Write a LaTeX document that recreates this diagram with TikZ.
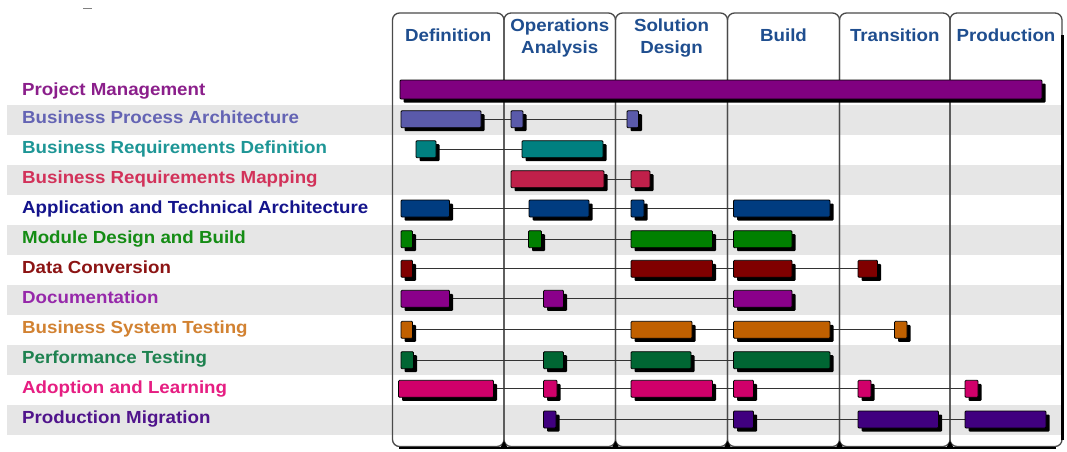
\documentclass[tikz,border=0pt]{standalone}
\usepackage{fontspec}
\setmainfont{Liberation Sans}[FakeStretch=1.07]
\usetikzlibrary{shadows}
\definecolor{hdr}{HTML}{1F4E8F}
\definecolor{band}{HTML}{E6E6E6}
\definecolor{gridc}{HTML}{4A4A4A}
% bar fills
\definecolor{cPM}{HTML}{800080}
\definecolor{cBPA}{HTML}{5A5AAA}
\definecolor{cBRD}{HTML}{008080}
\definecolor{cBRM}{HTML}{C0204A}
\definecolor{cATA}{HTML}{003C80}
\definecolor{cMDB}{HTML}{008000}
\definecolor{cDC}{HTML}{800000}
\definecolor{cDoc}{HTML}{8A008A}
\definecolor{cBST}{HTML}{C06000}
\definecolor{cPT}{HTML}{006633}
\definecolor{cAL}{HTML}{D0006A}
\definecolor{cPMg}{HTML}{40007F}
% label colours
\definecolor{tPM}{HTML}{8B1F8B}
\definecolor{tBPA}{HTML}{6464B4}
\definecolor{tBRD}{HTML}{1E9696}
\definecolor{tBRM}{HTML}{D2325A}
\definecolor{tATA}{HTML}{14148C}
\definecolor{tMDB}{HTML}{148C14}
\definecolor{tDC}{HTML}{8C1414}
\definecolor{tDoc}{HTML}{9628AA}
\definecolor{tBST}{HTML}{D28232}
\definecolor{tPT}{HTML}{1E8250}
\definecolor{tAL}{HTML}{E61E82}
\definecolor{tPMg}{HTML}{50148C}
\pgfdeclarelayer{bglayer}
\pgfdeclarelayer{linelayer}
\pgfsetlayers{bglayer,linelayer,main}
\newcommand\ganttbar[5]{\node[gbar, fill=#2, minimum width={(#4)-(#3)}] (#1) at ({((#3)+(#4))/2},#5) {};}
\begin{document}
\begin{tikzpicture}[x=1pt,y=-1pt,
  gbar/.style={draw=black, line width=0.8pt, inner sep=0pt, outer sep=0pt, minimum height=17pt,
     rounded corners=1pt,
     drop shadow={shadow xshift=3.5pt, shadow yshift=-3.5pt, fill=black, opacity=1}},
  conn/.style={draw=black!80, line width=0.9pt},
  tabbox/.style={draw=gridc, line width=1.3pt, rounded corners=7pt},
  hdrtext/.style={font=\fontsize{17.5}{20}\selectfont\bfseries, text=hdr, inner sep=0pt, anchor=base},
  rowlabel/.style={font=\fontsize{17.5}{20}\selectfont\bfseries, inner sep=0pt, anchor=base west}]
\useasboundingbox (0,0) rectangle (1067,451);

\begin{pgfonlayer}{bglayer}
  \fill[white] (0,0) rectangle (1067,451);
  % alternating bands
  \foreach \k in {0,2,4,6,8,10} {
    \fill[band] (7,{105+30*\k}) rectangle (1062,{135+30*\k});
  }
  % phase tabs
  \foreach \a/\b in {392.5/504,504/615.5,615.5/727.5,727.5/839.5,839.5/950,950/1062} {
    \draw[tabbox] (\a,13) rectangle (\b,446.5);
  }
  % shadow of the chart on the right and bottom
  \draw[black, line width=2.2pt] (1062.5,35) -- (1062.5,440);
  \draw[black, line width=2pt] (399,447.5) -- (1056,447.5);
  \foreach \a in {504,615.5,727.5,839.5,950} {
    \fill[black] ({\a-4},448.5) -- ({\a+4},448.5) -- (\a,441) -- cycle;
  }
  \draw[gray, line width=1pt] (83,8.3) -- (92,8.3);
\end{pgfonlayer}

% phase headers
\node[hdrtext] (hDef) at (448.25,41.7) {Definition};
\node[hdrtext] (hOA1) at (559.75,31.7) {Operations};
\node[hdrtext] (hOA2) at (559.75,53.3) {Analysis};
\node[hdrtext] (hSD1) at (671.5,31.7) {Solution};
\node[hdrtext] (hSD2) at (671.5,53.3) {Design};
\node[hdrtext] (hBld) at (783.5,41.7) {Build};
\node[hdrtext] (hTrn) at (894.75,41.7) {Transition};
\node[hdrtext] (hPrd) at (1006,41.7) {Production};

% row labels
\node[rowlabel, text=tPM]  (lPM)  at (22,95)    {Project Management};
\node[rowlabel, text=tBPA] (lBPA) at (22,123.5) {Business Process Architecture};
\node[rowlabel, text=tBRD] (lBRD) at (22,153.5) {Business Requirements Definition};
\node[rowlabel, text=tBRM] (lBRM) at (22,183.5) {Business Requirements Mapping};
\node[rowlabel, text=tATA] (lATA) at (22,213.5) {Application and Technical Architecture};
\node[rowlabel, text=tMDB] (lMDB) at (22,243.5) {Module Design and Build};
\node[rowlabel, text=tDC]  (lDC)  at (22,273.5) {Data Conversion};
\node[rowlabel, text=tDoc] (lDoc) at (22,303.5) {Documentation};
\node[rowlabel, text=tBST] (lBST) at (22,333.5) {Business System Testing};
\node[rowlabel, text=tPT]  (lPT)  at (22,363.5) {Performance Testing};
\node[rowlabel, text=tAL]  (lAL)  at (22,393.5) {Adoption and Learning};
\node[rowlabel, text=tPMg] (lPMg) at (22,423.5) {Production Migration};

% bars
\node[gbar, fill=cPM, minimum width=642pt, minimum height=19pt] (pm) at (721,89.5) {};
\ganttbar{bpa1}{cBPA}{401}{481}{119.2}
\ganttbar{bpa2}{cBPA}{511}{523}{119.2}
\ganttbar{bpa3}{cBPA}{627}{638.5}{119.2}
\ganttbar{brd1}{cBRD}{416}{436}{149.2}
\ganttbar{brd2}{cBRD}{522}{603}{149.2}
\ganttbar{brm1}{cBRM}{511}{604}{179.2}
\ganttbar{brm2}{cBRM}{631}{650}{179.2}
\ganttbar{ata1}{cATA}{401}{449.5}{208.5}
\ganttbar{ata2}{cATA}{529}{589}{208.5}
\ganttbar{ata3}{cATA}{631}{644}{208.5}
\ganttbar{ata4}{cATA}{733.5}{830}{208.5}
\ganttbar{mdb1}{cMDB}{401}{412.5}{239.2}
\ganttbar{mdb2}{cMDB}{528.5}{541.5}{239.2}
\ganttbar{mdb3}{cMDB}{631}{712.5}{239.2}
\ganttbar{mdb4}{cMDB}{733.5}{792}{239.2}
\ganttbar{dc1}{cDC}{401}{412.5}{268.8}
\ganttbar{dc2}{cDC}{631}{712.5}{268.8}
\ganttbar{dc3}{cDC}{733.5}{792}{268.8}
\ganttbar{dc4}{cDC}{858}{877.5}{268.8}
\ganttbar{doc1}{cDoc}{401}{449.5}{298.8}
\ganttbar{doc2}{cDoc}{543.5}{563.5}{298.8}
\ganttbar{doc3}{cDoc}{733.5}{792}{298.8}
\ganttbar{bst1}{cBST}{401}{412.5}{329.8}
\ganttbar{bst2}{cBST}{631}{692}{329.8}
\ganttbar{bst3}{cBST}{733.5}{830}{329.8}
\ganttbar{bst4}{cBST}{894.5}{907}{329.8}
\ganttbar{pt1}{cPT}{401}{413.5}{360.2}
\ganttbar{pt2}{cPT}{543.5}{563.5}{360.2}
\ganttbar{pt3}{cPT}{631}{691}{360.2}
\ganttbar{pt4}{cPT}{733.5}{830}{360.2}
\ganttbar{al1}{cAL}{398.5}{493.5}{388.8}
\ganttbar{al2}{cAL}{543.5}{557}{388.8}
\ganttbar{al3}{cAL}{631}{712.5}{388.8}
\ganttbar{al4}{cAL}{733.5}{753.5}{388.8}
\ganttbar{al5}{cAL}{858}{871}{388.8}
\ganttbar{al6}{cAL}{965}{978}{388.8}
\ganttbar{pmg1}{cPMg}{543.5}{556}{419.5}
\ganttbar{pmg2}{cPMg}{733.5}{753.5}{419.5}
\ganttbar{pmg3}{cPMg}{858}{938.5}{419.5}
\ganttbar{pmg4}{cPMg}{965}{1046}{419.5}

% connectors
\begin{pgfonlayer}{linelayer}
  \foreach \a/\b in {bpa1/bpa2,bpa2/bpa3,brd1/brd2,brm1/brm2,
      ata1/ata2,ata2/ata3,ata3/ata4,
      mdb1/mdb2,mdb2/mdb3,mdb3/mdb4,
      dc1/dc2,dc2/dc3,dc3/dc4,
      doc1/doc2,doc2/doc3,
      bst1/bst2,bst2/bst3,bst3/bst4,
      pt1/pt2,pt2/pt3,pt3/pt4,
      al1/al2,al2/al3,al3/al4,al4/al5,al5/al6,
      pmg1/pmg2,pmg2/pmg3,pmg3/pmg4} {
    \draw[conn] (\a.east) -- (\b.west);
  }
\end{pgfonlayer}
\end{tikzpicture}
\end{document}
